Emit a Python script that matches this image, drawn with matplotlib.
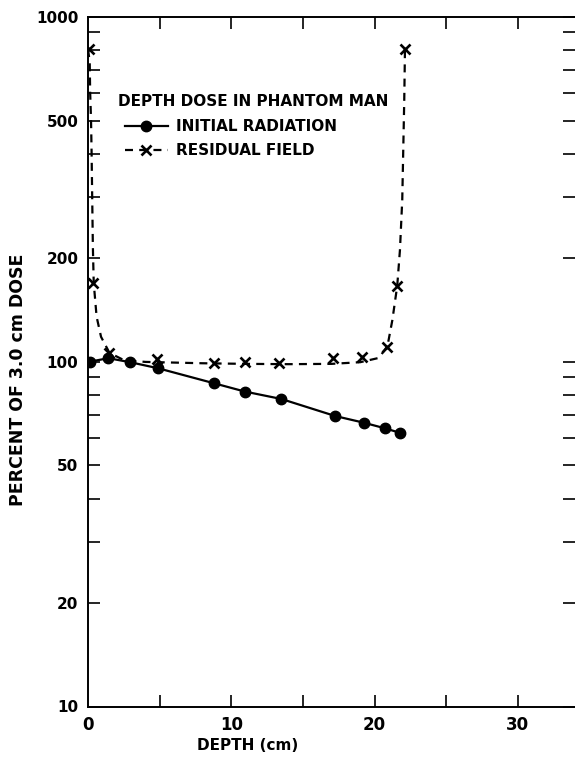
import numpy as np
import matplotlib
matplotlib.use("Agg")
import matplotlib.pyplot as plt
from matplotlib.lines import Line2D
from matplotlib.ticker import FixedLocator, NullFormatter, FixedFormatter

# ---------------- data ----------------
# Initial radiation: measured points (depth cm, percent of 3.0 cm dose)
initial_depth = [0.15, 1.42, 2.94, 4.87, 8.81, 10.93, 13.5, 17.27, 19.25, 20.7, 21.75]
initial_dose = [100.0, 102.3, 99.6, 95.7, 86.5, 81.9, 77.9, 69.5, 66.5, 64.1, 62.2]

# Residual field: measured points (x markers)
residual_depth = [0.05, 0.37, 1.48, 4.79, 8.79, 10.96, 13.35, 17.12, 19.10, 20.84, 21.58, 22.12]
residual_dose = [805, 169, 106, 101.8, 98.9, 99.6, 98.9, 102.7, 103.0, 110.5, 166, 808]

# Residual field: smooth dashed curve
residual_curve_depth = [0.0, 0.12, 0.15, 0.21, 0.25, 0.29, 0.34, 0.40, 0.6, 0.91, 1.5, 2.5,
                        4.0, 8.0, 11.0, 14.0, 17.0, 19.0, 20.3, 20.9, 21.24, 21.58,
                        21.77, 21.93, 22.07, 22.12]
residual_curve_dose = [805, 740, 604, 505, 406, 305, 215, 169, 135, 118, 106, 101,
                       99.8, 98.9, 98.5, 98.3, 98.5, 99.6, 102.5, 111, 132, 166,
                       211, 295, 576, 808]

x_major_ticks = [0, 10, 20, 30]
x_all_ticks = [0, 5, 10, 15, 20, 25, 30]
y_major_ticks = [10, 20, 50, 100, 200, 500, 1000]
y_major_labels = ["10", "20", "50", "100", "200", "500", "1000"]

title_text = "DEPTH DOSE IN PHANTOM MAN"
label_initial = "INITIAL RADIATION"
label_residual = "RESIDUAL FIELD"
x_label = "DEPTH (cm)"
y_label = "PERCENT OF 3.0 cm DOSE"

# ---------------- figure ----------------
plt.rcParams["font.family"] = ["DejaVu Sans"]
plt.rcParams["font.weight"] = "bold"

W, H = 575, 757
fig = plt.figure(figsize=(W / 100, H / 100), dpi=100)
left_px, right_px, top_px, bot_px = 88, 575, 16.7, 706.5
ax = fig.add_axes([left_px / W, 1 - bot_px / H, (right_px - left_px) / W, (bot_px - top_px) / H])

ax.set_yscale("log")
ax.set_xlim(0, (right_px - left_px) / 14.33)
ax.set_ylim(10, 1000)

# curves
ax.plot(initial_depth, initial_dose, color="black", lw=1.6, marker="o", ms=7.5,
        mfc="black", mec="black")
ax.plot(residual_curve_depth, residual_curve_dose, color="black", lw=1.6,
        dashes=(3.6, 2.8))
ax.plot(residual_depth, residual_dose, ls="none", marker="x", ms=7.5, mew=1.9, color="black")

# ticks
minor_y = [m * 10 ** e for e in (1, 2) for m in range(2, 10)]
all_y = sorted(set(minor_y + y_major_ticks))
ax.yaxis.set_major_locator(FixedLocator(y_major_ticks))
ax.yaxis.set_major_formatter(FixedFormatter(y_major_labels))
ax.yaxis.set_minor_locator(FixedLocator([v for v in all_y if v not in y_major_ticks]))
ax.yaxis.set_minor_formatter(NullFormatter())

ax.xaxis.set_major_locator(FixedLocator(x_major_ticks))
ax.xaxis.set_minor_locator(FixedLocator([v for v in x_all_ticks if v not in x_major_ticks]))
ax.xaxis.set_minor_formatter(NullFormatter())

for which in ("major", "minor"):
    ax.tick_params(axis="both", which=which, direction="in", length=8.5, width=1.2,
                   top=True, right=True, colors="black")
ax.tick_params(axis="y", which="major", labelsize=11, pad=7)
ax.tick_params(axis="x", which="major", labelsize=12, pad=7)
# no tick at x=0 on bottom/top
ax.xaxis.get_major_ticks()[0].tick1line.set_visible(False)
ax.xaxis.get_major_ticks()[0].tick2line.set_visible(False)

for s in ("left", "bottom", "top"):
    ax.spines[s].set_linewidth(1.4)
ax.spines["right"].set_visible(False)

ax.set_xlabel(x_label, fontsize=11, fontweight="bold")
ax.xaxis.set_label_coords((248 - left_px) / (right_px - left_px), -(745 - bot_px) / (bot_px - top_px))
ax.xaxis.label.set_va("center")
ax.set_ylabel(y_label, fontsize=12.5, fontweight="bold")
ax.yaxis.set_label_coords(-(88 - 18) / (right_px - left_px), (bot_px - 380) / (bot_px - top_px))
ax.yaxis.label.set_va("center")

# legend
fig.text(118 / W, 1 - 101 / H, title_text, fontsize=11, fontweight="bold",
         ha="left", va="center")
h_init = Line2D([], [], color="black", lw=1.6, marker="o", ms=7.5)
h_res = Line2D([], [], color="black", lw=1.6, dashes=(3.6, 2.8), marker="x", ms=7.5, mew=1.9)
leg = ax.legend([h_init, h_res], [label_initial, label_residual],
                loc="upper left", bbox_to_anchor=(125 / W, 1 - 119 / H),
                bbox_transform=fig.transFigure, frameon=False, borderpad=0,
                borderaxespad=0, handlelength=2.8, handletextpad=0.55,
                labelspacing=0.6, prop={"size": 11, "weight": "bold"})

fig.savefig("out.png", dpi=100)
